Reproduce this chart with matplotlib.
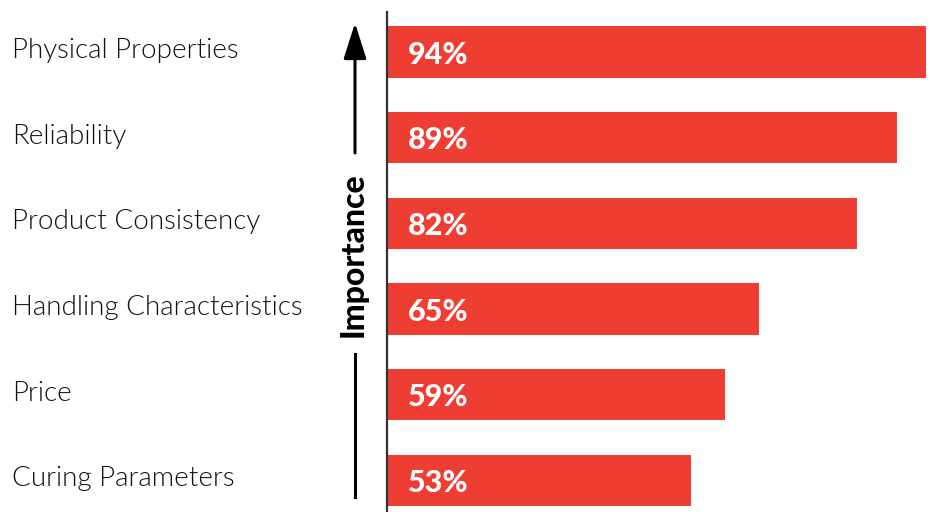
import matplotlib.pyplot as plt
from matplotlib.patches import FancyArrowPatch

categories = ["Physical Properties", "Reliability", "Product Consistency",
              "Handling Characteristics", "Price", "Curing Parameters"]
values = [94, 89, 82, 65, 59, 53]
value_labels = ["94%", "89%", "82%", "65%", "59%", "53%"]

bar_color = "#EE3D33"

fig = plt.figure(figsize=(9.52, 5.12), dpi=100)
ax = fig.add_axes([387 / 952, 0, 1 - 387 / 952, 1 - 12 / 512])

pos = list(range(len(categories)))
ax.barh(pos, values, height=0.6, color=bar_color, left=0)
ax.set_ylim(5.37, -0.467)
ax.set_xlim(0, 98.6)

for sp in ["top", "right", "bottom"]:
    ax.spines[sp].set_visible(False)
ax.spines["left"].set_color("#333333")
ax.spines["left"].set_linewidth(1.6)
ax.set_xticks([])
ax.set_yticks([])

for i, (cat, lab) in enumerate(zip(categories, value_labels)):
    # category name on the far left of the figure
    ax.annotate(cat, xy=(0, i), xycoords=("figure fraction", "data"),
                xytext=(9, 1), textcoords="offset points",
                ha="left", va="center", fontsize=20, fontfamily="Lato",
                fontweight=300, color="#111111", annotation_clip=False)
    ax.annotate(lab, xy=(0, i), xytext=(15, -2), textcoords="offset points",
                ha="left", va="center", fontsize=22, fontfamily="Lato",
                fontweight="black", color="white")

# importance arrow
xa = 355 / 952
fig.add_artist(plt.Line2D([xa, xa], [1 - 497 / 512, 1 - 354 / 512],
                          color="black", lw=2.2))
fig.patches.append(FancyArrowPatch(
    (xa, 1 - 153 / 512), (xa, 1 - 23 / 512), transform=fig.transFigure,
    arrowstyle="-|>,head_length=1.1,head_width=0.35", mutation_scale=20,
    color="black", lw=2.2, shrinkA=0, shrinkB=0))
fig.text(xa - 2 / 952, 1 - 255 / 512, "Importance", rotation=90, ha="center",
         va="center", fontsize=23, fontfamily="Lato", fontweight="black",
         color="black")

fig.savefig("out.png", dpi=100)
